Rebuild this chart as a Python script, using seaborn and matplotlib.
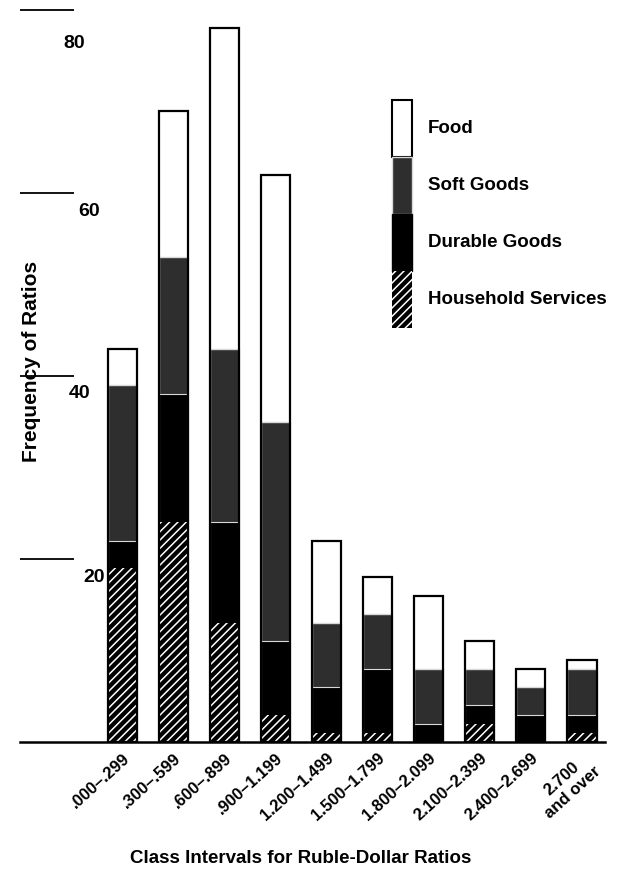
import numpy as np
import pandas as pd
import matplotlib
matplotlib.use("Agg")
import matplotlib.pyplot as plt
from matplotlib.patches import Patch, Rectangle
from matplotlib.legend_handler import HandlerPatch
from matplotlib.transforms import ScaledTranslation
import seaborn as sns

# class intervals and frequency counts per expenditure group
categories = [".000–.299", ".300–.599", ".600–.899", ".900–1.199", "1.200–1.499",
              "1.500–1.799", "1.800–2.099", "2.100–2.399", "2.400–2.699", "2.700\nand over"]
household = [19, 24, 13, 3, 1, 1, 0, 2, 0, 1]
durable = [3, 14, 11, 8, 5, 7, 2, 2, 3, 2]
soft = [17, 15, 19, 24, 7, 6, 6, 4, 3, 5]
food = [4, 16, 35, 27, 9, 4, 8, 3, 2, 1]
yticks = [20, 40, 60, 80]

sns.set_style("white")
plt.rcParams["font.family"] = ["Liberation Sans", "DejaVu Sans"]
plt.rcParams["font.weight"] = "bold"
plt.rcParams["hatch.linewidth"] = 1.1
for k in ["text.color", "axes.labelcolor", "xtick.color", "ytick.color"]:
    plt.rcParams[k] = "black"

df = pd.DataFrame({"cls": categories, "hh": household, "dur": durable,
                   "soft": soft, "food": food})
df["c_dur"] = df.hh + df.dur
df["c_soft"] = df.c_dur + df.soft
df["c_food"] = df.c_soft + df.food

fig = plt.figure(figsize=(6.22, 8.94), dpi=100)
ax = fig.add_axes([20 / 622, 152 / 894, 585 / 622, 736.6 / 894])

w = 0.57
# stacked layers drawn tallest first
sns.barplot(data=df, x="cls", y="c_food", color="white", saturation=1, width=w,
            errorbar=None, edgecolor="black", linewidth=0, ax=ax)
sns.barplot(data=df, x="cls", y="c_soft", color="#2e2e2e", saturation=1, width=w,
            errorbar=None, edgecolor="#d8d8d8", linewidth=1.0, ax=ax)
sns.barplot(data=df, x="cls", y="c_dur", color="black", saturation=1, width=w,
            errorbar=None, edgecolor="#d8d8d8", linewidth=0.8, ax=ax)
sns.barplot(data=df, x="cls", y="hh", color="black", saturation=1, width=w,
            errorbar=None, edgecolor="white", linewidth=0, hatch="////", ax=ax)
# outer outline of each stack
sns.barplot(data=df, x="cls", y="c_food", color="black", fill=False, width=w,
            errorbar=None, linewidth=1.6, ax=ax)

ax.set_xlim(-2.0, 9.45)
ax.set_ylim(0, 80.5)

for s in ["left", "top", "right"]:
    ax.spines[s].set_visible(False)
ax.spines["bottom"].set_linewidth(1.8)
ax.spines["bottom"].set_color("black")

ax.set_yticks(yticks)
ax.set_yticklabels([str(v) for v in yticks], fontsize=14, fontweight="bold")
ax.tick_params(axis="y", direction="in", length=39, width=1.3, color="black",
               pad=-54, left=True)
offsets = [(10, 17), (-5, 16), (5, 17), (-10, 32)]
for lab, (dx, dy) in zip(ax.get_yticklabels(), offsets):
    lab.set_transform(lab.get_transform() +
                      ScaledTranslation(dx / 100, -dy / 100, fig.dpi_scale_trans))
    lab.set_horizontalalignment("right")

ax.set_xticks(range(len(categories)))
ax.set_xticklabels(categories, rotation=42, ha="right", va="top",
                   rotation_mode="anchor", fontsize=12, fontweight="bold",
                   multialignment="center")
ax.tick_params(axis="x", length=0, pad=6)

ax.set_ylabel("Frequency of Ratios", fontsize=15, fontweight="bold")
ax.yaxis.set_label_coords(0.036, 0.516)
ax.set_xlabel("Class Intervals for Ruble-Dollar Ratios", fontsize=13.5, fontweight="bold")
ax.xaxis.set_label_coords(0.479, -0.146)


def full_rect(legend, orig_handle, xdescent, ydescent, width, height, fontsize):
    return Rectangle((-xdescent, -ydescent), width, height)


handles = [
    Patch(facecolor="white", edgecolor="black", linewidth=1.5, label="Food"),
    Patch(facecolor="#2e2e2e", edgecolor="#d8d8d8", linewidth=1.0, label="Soft Goods"),
    Patch(facecolor="black", edgecolor="black", linewidth=1.0, label="Durable Goods"),
    Patch(facecolor="black", edgecolor="white", linewidth=0, hatch="////",
          label="Household Services"),
]
fig.legend(handles=handles, loc="upper left", bbox_to_anchor=(392 / 622, 1 - 100 / 894),
           bbox_transform=fig.transFigure, frameon=False,
           handlelength=1.07, handleheight=4.3, handletextpad=0.85,
           labelspacing=0, borderpad=0, borderaxespad=0,
           handler_map={Patch: HandlerPatch(patch_func=full_rect)},
           prop={"weight": "bold", "size": 13.5})

fig.savefig("out.png", dpi=100)
